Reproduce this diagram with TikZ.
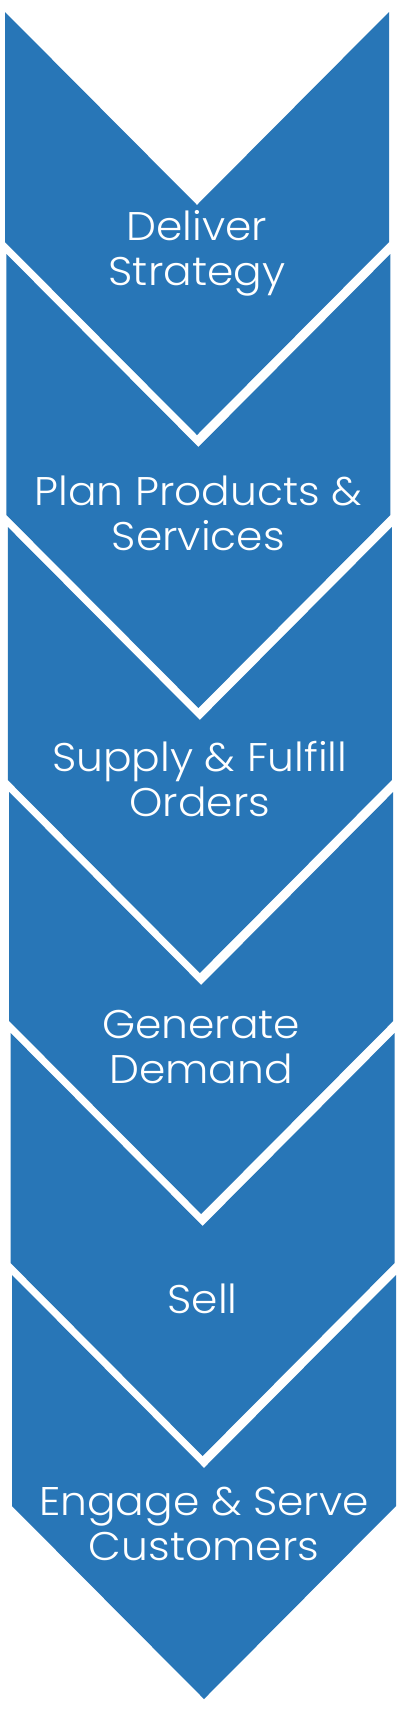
\documentclass[tikz,border=0pt]{standalone}
\usepackage{fontspec}
\setmainfont{Poppins Light}[FakeStretch=1.06]
\definecolor{chev}{RGB}{40,118,183}
\begin{document}
\begin{tikzpicture}[x=1pt,y=-1pt,
  chevtext/.style={text=white,align=center,anchor=base,font=\fontsize{40}{45}\selectfont,inner sep=0pt}]
\useasboundingbox[fill=white] (0,0) rectangle (400,1709);
% left x / top y / corner y
\foreach \Lx/\Ty/\Cy in {5/12/242, 6.4/254/515, 7.8/527/780, 9.2/792/1021, 10.6/1033/1263, 12/1275/1506}{
  \pgfmathsetmacro\Rx{\Lx+384}
  \pgfmathsetmacro\Mx{\Lx+192}
  \fill[chev] (\Lx,\Ty) -- (\Mx,\Ty+193) -- (\Rx,\Ty) -- (\Rx,\Cy) -- (\Mx,\Cy+193) -- (\Lx,\Cy) -- cycle;
}
% anchor = baseline of the last line
\node[chevtext] (t1) at (197,285) {Deliver\\Strategy};
\node[chevtext] (t2) at (198.4,550) {Plan Products \&\\Services};
\node[chevtext] (t3) at (199.8,816) {Supply \& Fulfill\\Orders};
\node[chevtext] (t4) at (201.2,1083) {Generate\\Demand};
\node[chevtext] (t5) at (202.6,1313) {Sell};
\node[chevtext] (t6) at (204,1560) {Engage \& Serve\\Customers};
\end{tikzpicture}
\end{document}
